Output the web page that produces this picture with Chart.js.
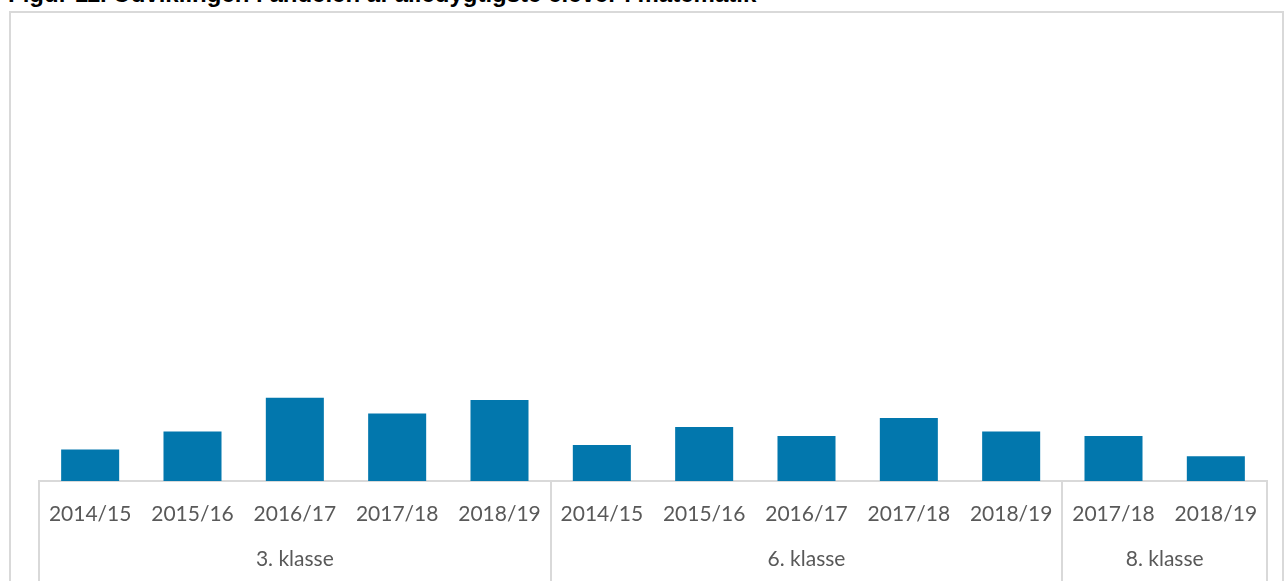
<!DOCTYPE html>
<html>
<head>
<meta charset="utf-8">
<script src="https://cdn.jsdelivr.net/npm/chart.js@4.4.1/dist/chart.umd.min.js"></script>
<style>
  html, body { margin: 0; padding: 0; background: #fff; overflow: hidden; }
  body { width: 1285px; height: 581px; position: relative; }
  #title {
    position: absolute; left: 8px; top: -20px; margin: 0;
    font: bold 24px "Liberation Sans", Arial, sans-serif; color: #000; white-space: nowrap;
  }
  #box {
    position: absolute; left: 9px; top: 11px; width: 1275px; height: 600px;
    border: 2px solid #d9d9d9; box-sizing: border-box;
  }
  #chartWrap { position: absolute; left: 0; top: 0; width: 1285px; height: 581px; }
</style>
</head>
<body>
<div id="title">Figur 11. Udviklingen i andelen af alledygtigste elever i matematik</div>
<div id="box"></div>
<div id="chartWrap"><canvas id="chart"></canvas></div>
<script>
// years on the inner axis row, grade groups on the outer row
const years = ["2014/15", "2015/16", "2016/17", "2017/18", "2018/19",
               "2014/15", "2015/16", "2016/17", "2017/18", "2018/19",
               "2017/18", "2018/19"];
const groups = ["3. klasse", "6. klasse", "8. klasse"];
const groupSizes = [5, 5, 2];
const shares = [1.4, 2.2, 3.7, 3.0, 3.6, 1.6, 2.4, 2.0, 2.8, 2.2, 2.0, 1.1];

const axisGray = "#d9d9d9";
const labelGray = "#595959";
const labelFont = "Lato, 'Open Sans', sans-serif";

// separators and the grade labels under the year row
const groupAxis = {
  id: "groupAxis",
  afterDraw(chart) {
    const { ctx } = chart;
    const x = chart.scales.x;
    const top = chart.chartArea.bottom;
    const bottom = chart.height;
    const step = x.getPixelForValue(1) - x.getPixelForValue(0);
    const edges = [x.getPixelForValue(0) - step / 2];
    let idx = 0;
    groupSizes.forEach((n) => { idx += n; edges.push(x.getPixelForValue(idx - 1) + step / 2); });

    ctx.save();
    ctx.strokeStyle = axisGray;
    ctx.lineWidth = 2;
    edges.forEach((e) => {
      ctx.beginPath();
      ctx.moveTo(Math.round(e), top);
      ctx.lineTo(Math.round(e), bottom);
      ctx.stroke();
    });
    ctx.fillStyle = labelGray;
    ctx.font = "21px " + labelFont;
    ctx.textAlign = "center";
    ctx.textBaseline = "middle";
    groups.forEach((g, i) => {
      ctx.fillText(g, (edges[i] + edges[i + 1]) / 2, 559);
    });
    ctx.restore();
  }
};

new Chart(document.getElementById("chart"), {
  type: "bar",
  data: {
    labels: years,
    datasets: [{
      data: shares,
      backgroundColor: "#0277ad",
      borderWidth: 0,
      barPercentage: 0.567,
      categoryPercentage: 1
    }]
  },
  options: {
    responsive: true,
    maintainAspectRatio: false,
    animation: false,
    layout: { padding: { top: 31, left: 39, right: 18, bottom: 0 } },
    plugins: { legend: { display: false }, tooltip: { enabled: false } },
    scales: {
      x: {
        grid: { display: false },
        border: { color: axisGray, width: 2 },
        ticks: {
          color: labelGray,
          font: { family: labelFont, size: 21 },
          padding: 13,
          maxRotation: 0,
          autoSkip: false
        },
        afterFit(scale) { scale.height = 100; }
      },
      y: {
        display: false,
        min: 0,
        max: 20
      }
    }
  },
  plugins: [groupAxis]
});
</script>
</body>
</html>
